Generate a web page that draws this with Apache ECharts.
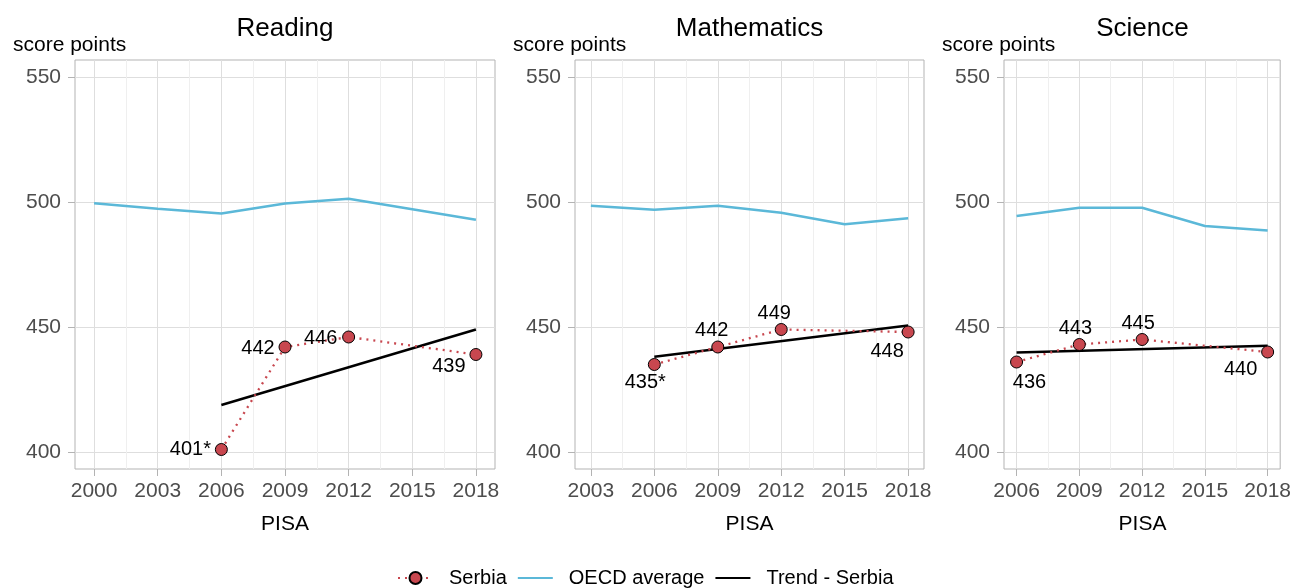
<!DOCTYPE html>
<html>
<head>
<meta charset="UTF-8">
<script src="https://cdn.jsdelivr.net/npm/echarts@6/dist/echarts.min.js"></script>
<style>html,body{margin:0;padding:0;background:#fff}</style>
</head>
<body>
<div id="main" style="width:1294px;height:588px;"></div>
<script>
    // panels
    var subjects = ['Reading', 'Mathematics', 'Science'];

    // OECD average
    var oecdYearsReading = [2000, 2003, 2006, 2009, 2012, 2015, 2018];
    var oecdYearsMath = [2003, 2006, 2009, 2012, 2015, 2018];
    var oecdYearsScience = [2006, 2009, 2012, 2015, 2018];
    var oecdReading = [499.5, 497.3, 495.4, 499.4, 501.3, 497.1, 492.9];
    var oecdMath = [498.5, 496.9, 498.5, 495.7, 491.1, 493.5];
    var oecdScience = [494.4, 497.7, 497.7, 490.4, 488.6];

    // Serbia
    var serbiaYears = [2006, 2009, 2012, 2018];
    var serbiaReading = [401, 442, 446, 439];
    var serbiaMath = [435, 442, 449, 448];
    var serbiaScience = [436, 443, 445, 440];
    // * = significant difference
    var markReading = ['*', '', '', ''];
    var markMath = ['*', '', '', ''];
    var markScience = ['', '', '', ''];

    // Trend - Serbia (end points)
    var trendYears = [2006, 2018];
    var trendReading = [418.8, 449.0];
    var trendMath = [438.1, 450.6];
    var trendScience = [439.8, 442.5];

    // ticks
    var xTicksReading = [2000, 2003, 2006, 2009, 2012, 2015, 2018];
    var xTicksMath = [2003, 2006, 2009, 2012, 2015, 2018];
    var xTicksScience = [2006, 2009, 2012, 2015, 2018];
    var yTicks = [400, 450, 500, 550];

    var RED = '#c8474f';
    var BLUE = '#5bb8d8';
    var FONT = 'Liberation Sans, Arial, sans-serif';

    var panels = [
        {left: 75, width: 420, xMin: 1999.1, xMax: 2018.9, ticks: xTicksReading,
            oy: oecdYearsReading, ov: oecdReading, sv: serbiaReading, mk: markReading, tv: trendReading,
            offs: [[-31, 0], [-27, 1], [-28, 1], [-27, 12]]},
        {left: 575, width: 349, xMin: 2002.25, xMax: 2018.75, ticks: xTicksMath,
            oy: oecdYearsMath, ov: oecdMath, sv: serbiaMath, mk: markMath, tv: trendMath,
            offs: [[-9, 18], [-6, -17], [-7, -16], [-21, 19]]},
        {left: 1004, width: 277, xMin: 2005.4, xMax: 2018.6, ticks: xTicksScience,
            oy: oecdYearsScience, ov: oecdScience, sv: serbiaScience, mk: markScience, tv: trendScience,
            offs: [[13, 20], [-4, -16], [-4, -16], [-27, 17]]}
    ];
    var TOP = 60, HEIGHT = 409;

    var grid = [], xAxis = [], yAxis = [], series = [], graphic = [];

    for (var i = 0; i < panels.length; i++) {
        var p = panels[i];
        grid.push({left: p.left, top: TOP, width: p.width, height: HEIGHT,
            show: true, borderColor: '#b3b3b3', borderWidth: 1, backgroundColor: '#fff'});

        var minor = [];
        for (var k = 0; k < p.ticks.length - 1; k++) {
            minor.push((p.ticks[k] + p.ticks[k + 1]) / 2);
        }
        // major x axis
        xAxis.push({
            type: 'value', gridIndex: i, min: p.xMin, max: p.xMax, position: 'bottom',
            axisLine: {show: false},
            axisTick: {show: true, length: 7, customValues: p.ticks, lineStyle: {color: '#b3b3b3'}},
            axisLabel: {customValues: p.ticks, color: '#4d4d4d', fontSize: 21, fontFamily: FONT, margin: 12,
                formatter: function (v) { return String(v); }},
            splitLine: {show: true, lineStyle: {color: '#dedede', width: 1}}
        });
        // minor grid lines
        xAxis.push({
            type: 'value', gridIndex: i, min: p.xMin, max: p.xMax, position: 'top',
            axisLine: {show: false},
            axisTick: {show: false, customValues: minor},
            axisLabel: {show: false},
            splitLine: {show: true, lineStyle: {color: '#efefef', width: 1}}
        });
        yAxis.push({
            type: 'value', gridIndex: i, min: 393.2, max: 556.8,
            axisLine: {show: false},
            axisTick: {show: true, length: 7, customValues: yTicks, lineStyle: {color: '#b3b3b3'}},
            axisLabel: {customValues: yTicks, color: '#4d4d4d', fontSize: 21, fontFamily: FONT, margin: 14},
            splitLine: {show: true, lineStyle: {color: '#dedede', width: 1}}
        });

        series.push({
            name: 'OECD average', type: 'line', xAxisIndex: i * 2, yAxisIndex: i, z: 2,
            symbol: 'none', lineStyle: {color: BLUE, width: 2.4}, itemStyle: {color: BLUE},
            data: p.oy.map(function (y, j) { return [y, p.ov[j]]; })
        });
        series.push({
            name: 'Trend - Serbia', type: 'line', xAxisIndex: i * 2, yAxisIndex: i, z: 3,
            symbol: 'none', lineStyle: {color: '#000', width: 2.4}, itemStyle: {color: '#000'},
            data: trendYears.map(function (y, j) { return [y, p.tv[j]]; })
        });
        series.push({
            name: 'Serbia', type: 'line', xAxisIndex: i * 2, yAxisIndex: i, z: 4,
            symbol: 'circle', symbolSize: 12,
            itemStyle: {color: RED, borderColor: '#000', borderWidth: 1},
            lineStyle: {color: RED, width: 2.3, type: [2, 5]},
            label: {show: true, position: 'inside', color: '#000', fontSize: 20, fontFamily: FONT},
            data: serbiaYears.map(function (y, j) {
                return {
                    value: [y, p.sv[j]],
                    label: {offset: p.offs[j], formatter: String(p.sv[j]) + p.mk[j]}
                };
            })
        });

        var cx = p.left + p.width / 2;
        graphic.push({type: 'text', x: cx, y: 29, style: {text: subjects[i], font: '26px ' + FONT,
            fill: '#000', textAlign: 'center', textVerticalAlign: 'middle'}});
        graphic.push({type: 'text', x: p.left - 62, y: 45, style: {text: 'score points', font: '21px ' + FONT,
            fill: '#000', textAlign: 'left', textVerticalAlign: 'middle'}});
        graphic.push({type: 'text', x: cx, y: 524, style: {text: 'PISA', font: '21px ' + FONT,
            fill: '#000', textAlign: 'center', textVerticalAlign: 'middle'}});
    }

    var chart = echarts.init(document.getElementById('main'));
    chart.setOption({
        animation: false,
        backgroundColor: '#fff',
        grid: grid,
        xAxis: xAxis,
        yAxis: yAxis,
        graphic: graphic,
        legend: {
            left: 392, top: 563, itemWidth: 35, itemHeight: 15, itemGap: 10,
            textStyle: {fontSize: 20, color: '#000', fontFamily: FONT, padding: [0, 0, 0, 11]},
            data: [
                {name: 'Serbia'},
                {name: 'OECD average', itemStyle: {opacity: 0}},
                {name: 'Trend - Serbia', itemStyle: {opacity: 0}}
            ]
        },
        series: series
    });
</script>
</body>
</html>
